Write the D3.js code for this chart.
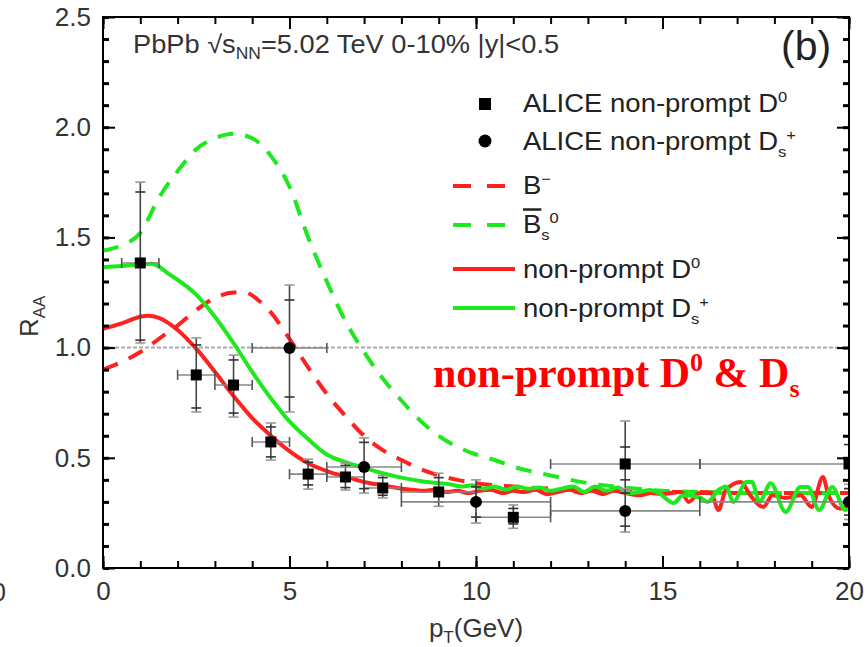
<!DOCTYPE html>
<html><head><meta charset="utf-8">
<script src="https://cdn.jsdelivr.net/npm/d3@7"></script>
<style>body{margin:0;background:#fff} text{font-family:"Liberation Sans",Arial,sans-serif}</style>
</head><body><svg id="c" width="866" height="647"></svg>
<script>
// ---------- data ----------
const xTicks = [0, 5, 10, 15, 20];
const yTicks = [0, 0.5, 1.0, 1.5, 2.0, 2.5];

// model curves [pT, R_AA]
const bMinus = [[0,0.90],[0.5,0.935],[1,0.98],[1.5,1.04],[2,1.10],[2.5,1.17],[3,1.225],[3.5,1.25],[3.8,1.25],[4.2,1.21],[4.5,1.16],[5,1.04],[5.5,0.91],[6,0.79],[6.5,0.69],[7,0.60],[7.5,0.535],[8,0.49],[8.5,0.45],[9,0.42],[9.5,0.40],[10,0.385],[11,0.37],[12,0.36],[13,0.355],[14,0.35],[15,0.345],[16,0.345],[17,0.34],[18,0.34],[19,0.34],[20,0.34]];
const bsBar0 = [[0,1.44],[0.5,1.465],[1,1.52],[1.5,1.68],[2,1.80],[2.5,1.90],[3,1.95],[3.5,1.97],[4,1.95],[4.5,1.87],[5,1.73],[5.5,1.50],[6,1.30],[6.5,1.12],[7,0.98],[7.5,0.86],[8,0.76],[8.5,0.67],[9,0.60],[9.5,0.55],[10,0.515],[10.5,0.49],[11,0.46],[12,0.42],[13,0.385],[14,0.365],[15,0.35],[16,0.345],[17,0.34],[18,0.34],[20,0.34]];
const npD0 = [[0,1.085],[0.5,1.11],[1,1.14],[1.2,1.145],[1.5,1.135],[2,1.08],[2.5,0.995],[3,0.89],[3.5,0.78],[4,0.68],[4.5,0.60],[5,0.53],[5.5,0.475],[6,0.44],[6.5,0.415],[7,0.39],[7.5,0.375],[8,0.36],
  [8.3,0.355],[8.6,0.35],[8.9,0.355],[9.2,0.345],[9.5,0.35],[9.8,0.34],[10.1,0.35],[10.4,0.355],[10.7,0.34],[11,0.35],[11.3,0.345],[11.6,0.355],[11.9,0.335],[12.2,0.345],[12.5,0.355],[12.8,0.34],[13.1,0.35],[13.4,0.335],[13.7,0.35],[14,0.34],
  [14.4,0.33],[14.7,0.34],[15,0.335],[15.5,0.345],[15.7,0.30],[16,0.34],[16.3,0.34],[16.5,0.263],[16.7,0.354],[17.1,0.39],[17.35,0.33],[17.7,0.277],[17.95,0.33],[18.3,0.318],[18.7,0.33],[19,0.277],[19.3,0.413],[19.45,0.33],[19.75,0.27],[20,0.28]];
const npDs = [[0,1.365],[0.5,1.37],[1,1.377],[1.3,1.38],[1.8,1.33],[2.5,1.24],[3,1.14],[3.5,1.02],[4,0.89],[4.5,0.77],[5,0.665],[5.5,0.585],[6,0.515],[6.5,0.48],[7,0.455],[7.5,0.43],[8,0.41],[8.5,0.395],[9,0.385],
  [9.3,0.38],[9.6,0.37],[9.9,0.375],[10.2,0.36],[10.5,0.37],[10.8,0.355],[11.1,0.37],[11.4,0.36],[11.7,0.365],[12,0.35],[12.3,0.36],[12.6,0.37],[12.9,0.345],[13.2,0.37],[13.5,0.35],[13.8,0.365],[14.1,0.34],[14.4,0.345],[14.67,0.354],[14.9,0.34],
  [15.3,0.295],[15.55,0.33],[16,0.32],[16.2,0.30],[16.5,0.354],[16.7,0.37],[16.9,0.30],[17.25,0.39],[17.4,0.39],[17.6,0.30],[17.9,0.385],[18.3,0.254],[18.7,0.367],[18.9,0.367],[19.2,0.263],[19.55,0.367],[19.9,0.263],[20,0.27]];

// ALICE non-prompt D0 (squares)
const d0Pt   = [1, 2.5, 3.5, 4.5, 5.5, 6.5, 7.5, 9, 11, 14, 20];
const d0Val  = [1.384, 0.876, 0.83, 0.572, 0.426, 0.413, 0.363, 0.345, 0.23, 0.472, 0.472];
const d0XLo  = [0.5, 2, 3, 4, 5, 6, 7, 8, 10, 12, 16];
const d0XHi  = [1.5, 3, 4, 5, 6, 7, 8, 10, 12, 16, 24];
const d0HiA  = [1.751, 1.044, 0.966, 0.658, 0.494, 0.476, 0.42, 0.43, 0.286, 0.667, 0.60];
const d0HiB  = [1.706, 1.012, 0.944, 0.64, 0.48, 0.465, 0.41, 0.41, 0.27, 0.549, 0.56];
const d0LoB  = [1.034, 0.726, 0.703, 0.504, 0.377, 0.365, 0.33, 0.30, 0.20, 0.40, 0.40];
const d0LoA  = [1.021, 0.708, 0.685, 0.49, 0.358, 0.354, 0.318, 0.28, 0.18, 0.35, 0.36];

// ALICE non-prompt Ds+ (circles)
const dsPt   = [5, 7, 10, 14, 20];
const dsVal  = [0.998, 0.458, 0.30, 0.259, 0.30];
const dsXLo  = [4, 6, 8, 12, 16];
const dsXHi  = [6, 8, 12, 16, 24];
const dsHiA  = [1.284, 0.59, 0.40, 0.36, 0.38];
const dsHiB  = [1.216, 0.57, 0.368, 0.34, 0.36];
const dsLoB  = [0.776, 0.36, 0.231, 0.19, 0.24];
const dsLoA  = [0.708, 0.34, 0.204, 0.163, 0.22];

// ---------- drawing ----------
const RED = "#ff2020", GREEN = "#1ee81e";
const svg = d3.select("#c");
svg.append("rect").attr("width",866).attr("height",647).attr("fill","#fff");
const x = d3.scaleLinear().domain([0,20]).range([103,849]);
const y = d3.scaleLinear().domain([0,2.5]).range([568,17]);

svg.append("clipPath").attr("id","clip").append("rect")
  .attr("x",103).attr("y",17).attr("width",746).attr("height",551);
const plot = svg.append("g").attr("clip-path","url(#clip)");

// reference line at 1
plot.append("line").attr("x1",x(0)).attr("x2",x(20)).attr("y1",y(1)).attr("y2",y(1))
  .attr("stroke","#aaa").attr("stroke-width",2).attr("stroke-dasharray","4,2");

const line = d3.line().x(d=>x(d[0])).y(d=>y(d[1])).curve(d3.curveMonotoneX);
const curves = [
  {d:bMinus, c:RED, dash:"16,12"},
  {d:bsBar0, c:GREEN, dash:"16,12"},
  {d:npD0, c:RED, dash:null},
  {d:npDs, c:GREEN, dash:null}
];
curves.forEach(cv=>{
  plot.append("path").attr("d",line(cv.d)).attr("fill","none")
    .attr("stroke",cv.c).attr("stroke-width",4).attr("stroke-linejoin","round")
    .attr("stroke-dasharray",cv.dash);
});

function drawData(pt,val,xlo,xhi,hiA,hiB,loB,loA,shape){
  const g = plot.append("g");
  pt.forEach((p,i)=>{
    const cx = x(p), cy = y(val[i]);
    g.append("line").attr("x1",x(xlo[i])).attr("x2",x(xhi[i])).attr("y1",cy).attr("y2",cy)
      .attr("stroke","#888").attr("stroke-width",1.6);
    [xlo[i],xhi[i]].forEach(e=>{
      g.append("line").attr("x1",x(e)).attr("x2",x(e)).attr("y1",cy-5).attr("y2",cy+5)
        .attr("stroke","#555").attr("stroke-width",1.6);
    });
    g.append("line").attr("x1",cx).attr("x2",cx).attr("y1",y(hiA[i])).attr("y2",y(loA[i]))
      .attr("stroke","#444").attr("stroke-width",1.6);
    [[hiA[i],"#999"],[loA[i],"#999"],[hiB[i],"#333"],[loB[i],"#333"]].forEach(([v,c])=>{
      g.append("line").attr("x1",cx-5).attr("x2",cx+5).attr("y1",y(v)).attr("y2",y(v))
        .attr("stroke",c).attr("stroke-width",1.6);
    });
  });
  pt.forEach((p,i)=>{
    const cx = x(p), cy = y(val[i]);
    if(shape==="square") g.append("rect").attr("x",cx-5.5).attr("y",cy-5.5).attr("width",11).attr("height",11).attr("fill","#000");
    else g.append("circle").attr("cx",cx).attr("cy",cy).attr("r",6).attr("fill","#000");
  });
}
drawData(d0Pt,d0Val,d0XLo,d0XHi,d0HiA,d0HiB,d0LoB,d0LoA,"square");
drawData(dsPt,dsVal,dsXLo,dsXHi,dsHiA,dsHiB,dsLoB,dsLoA,"circle");

// ---------- axes ----------
function styleAxis(g,w){
  g.select(".domain").remove();
  g.selectAll(".tick line").attr("stroke","#000").attr("stroke-width",w);
  g.selectAll(".tick text").attr("font-size",26).attr("fill","#333")
    .attr("font-family","'Liberation Sans',Arial,sans-serif");
}
const minorX = d3.range(0,21,1);
const minorY = d3.range(0,26,1).map(v=>v/10);
styleAxis(svg.append("g").attr("transform","translate(0,568)").call(d3.axisBottom(x).tickValues(minorX).tickSize(-7).tickFormat("")),2);
styleAxis(svg.append("g").attr("transform","translate(0,568)").call(d3.axisBottom(x).tickValues(xTicks).tickSize(-12).tickPadding(14).tickFormat(d3.format("d"))),2);
styleAxis(svg.append("g").attr("transform","translate(0,17)").call(d3.axisTop(x).tickValues(minorX).tickSize(-7).tickFormat("")),2);
styleAxis(svg.append("g").attr("transform","translate(0,17)").call(d3.axisTop(x).tickValues(xTicks).tickSize(-12).tickFormat("")),2);
styleAxis(svg.append("g").attr("transform","translate(103,0)").call(d3.axisLeft(y).tickValues(minorY).tickSize(-6).tickFormat("")),3);
styleAxis(svg.append("g").attr("transform","translate(103,0)").call(d3.axisLeft(y).tickValues(yTicks).tickSize(-12).tickPadding(12).tickFormat(d3.format(".1f"))),2);
styleAxis(svg.append("g").attr("transform","translate(849,0)").call(d3.axisRight(y).tickValues(minorY).tickSize(-6).tickFormat("")),3);
styleAxis(svg.append("g").attr("transform","translate(849,0)").call(d3.axisRight(y).tickValues(yTicks).tickSize(-12).tickFormat("")),2);
svg.append("rect").attr("x",103).attr("y",17).attr("width",746).attr("height",551)
  .attr("fill","none").attr("stroke","#000").attr("stroke-width",2);

// partial label from neighbouring panel (cut by the image edge, as in the reference)
svg.append("text").attr("x",6).attr("y",601).attr("text-anchor","end").attr("font-size",26).attr("fill","#333").text("20");

// axis titles
const xl = svg.append("text").attr("x",476).attr("y",637).attr("text-anchor","middle").attr("font-size",26).attr("fill","#333");
xl.append("tspan").text("p");
xl.append("tspan").attr("font-size",17).attr("dy",6).text("T");
xl.append("tspan").attr("dy",-6).text("(GeV)");
const yl = svg.append("text").attr("transform","translate(38,337) rotate(-90)").attr("font-size",26).attr("fill","#333");
yl.append("tspan").text("R");
yl.append("tspan").attr("font-size",17).attr("dy",7).text("AA");

// title
const tt = svg.append("text").attr("transform","translate(133,53) scale(1.09,1)").attr("font-size",25).attr("fill","#333");
tt.append("tspan").text("PbPb \u221As");
tt.append("tspan").attr("font-size",16).attr("dy",6).text("NN");
tt.append("tspan").attr("dy",-6).text("=5.02 TeV 0-10% |y|<0.5");
svg.append("text").attr("x",781).attr("y",60).attr("font-size",41).attr("fill","#222").text("(b)");

// legend
const lg = svg.append("g");
lg.append("rect").attr("x",479).attr("y",98).attr("width",12).attr("height",12).attr("fill","#000");
lg.append("circle").attr("cx",485).attr("cy",141).attr("r",6.5).attr("fill","#000");
[[186,RED,"18,16"],[225,GREEN,"18,16"],[269,RED,null],[308,GREEN,null]].forEach(([yy,c,d])=>{
  lg.append("line").attr("x1",453).attr("x2",d?507:515).attr("y1",yy).attr("y2",yy)
    .attr("stroke",c).attr("stroke-width",4).attr("stroke-dasharray",d);
});
function legText(yb, parts){
  const t = lg.append("text").attr("transform",`translate(523,${yb}) scale(1.1,1)`).attr("font-size",25).attr("fill","#222");
  parts.forEach(p=>{
    const s = t.append("tspan").text(p[0]);
    if(p[1]) s.attr("font-size",15).attr("dy",p[1]);
    if(p[2]) s.style("text-decoration","overline");
  });
}
legText(112,[["ALICE non-prompt D"],["0",-10],["",10]]);
legText(150,[["ALICE non-prompt D"],["s",7],["+",-17],["",10]]);
legText(194,[["B"],["\u2212",-10],["",10]]);
legText(233,[["B",0,true],["s",7],["0",-17],["",10]]);
legText(278,[["non-prompt D"],["0",-10],["",10]]);
legText(317,[["non-prompt D"],["s",7],["+",-17],["",10]]);

// annotation
const an = svg.append("text").attr("x",433).attr("y",387).attr("font-size",42)
  .attr("font-weight","bold").attr("fill","#ff0000").style("font-family","'Liberation Serif','Times New Roman',serif");
an.append("tspan").text("non-prompt D");
an.append("tspan").attr("font-size",26).attr("dy",-16).text("0");
an.append("tspan").attr("dy",16).text(" & D");
an.append("tspan").attr("font-size",26).attr("dy",10).text("s");
</script>
</body></html>
